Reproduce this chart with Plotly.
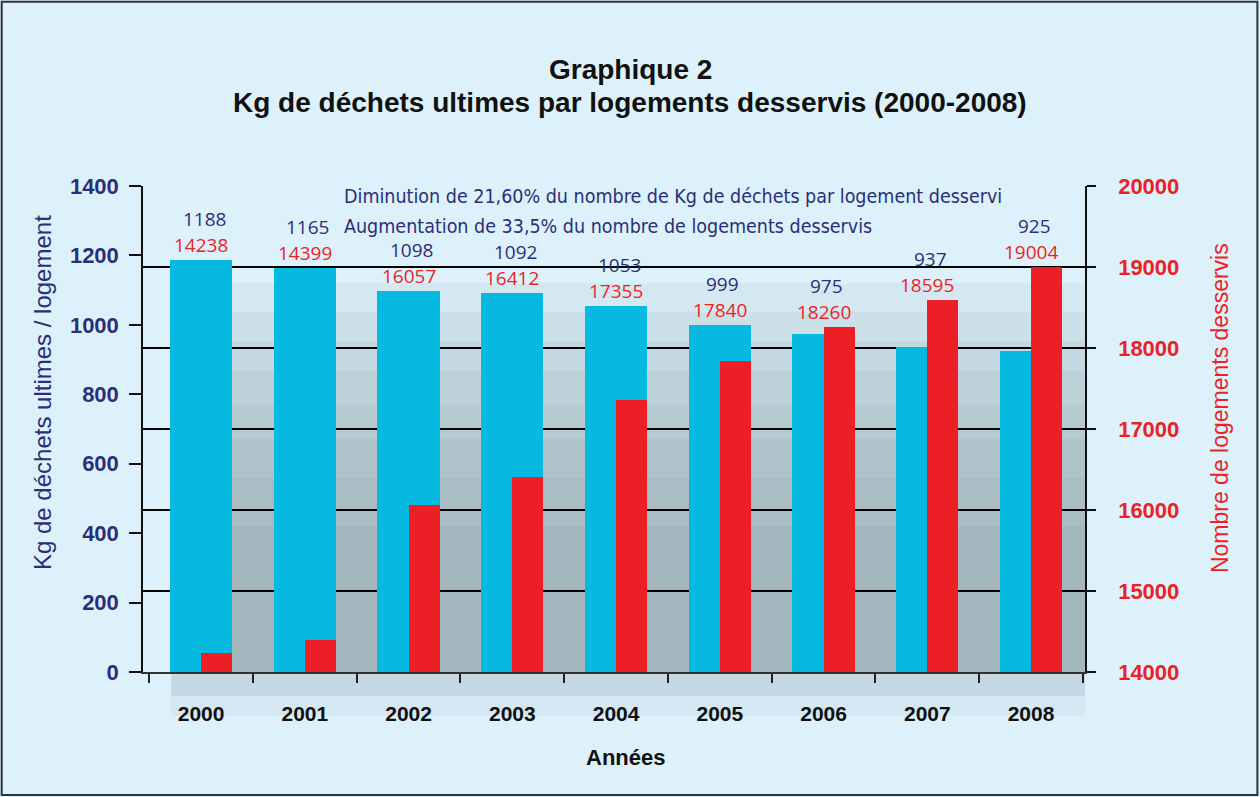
import plotly.graph_objects as go

years = ["2000", "2001", "2002", "2003", "2004", "2005", "2006", "2007", "2008"]
kg_per_logement = [1188, 1165, 1098, 1092, 1053, 999, 975, 937, 925]
logements = [14238, 14399, 16057, 16412, 17355, 17840, 18260, 18595, 19004]

left_ticks = [0, 200, 400, 600, 800, 1000, 1200, 1400]
right_ticks = [14000, 15000, 16000, 17000, 18000, 19000, 20000]

NAVY = "#2b2f78"
RED = "#ec1f26"
CYAN = "#06b9e0"
BG = "#ddf1fb"
FONT = "Liberation Sans, Arial, sans-serif"
NARROW = "DejaVu Sans Condensed, sans-serif"
NUMFONT = "Open Sans, Noto Sans, sans-serif"

idx = list(range(len(years)))

fig = go.Figure()
fig.add_trace(go.Bar(
    x=idx, y=kg_per_logement, width=0.6, offset=-0.3,
    marker=dict(color=CYAN, line=dict(width=0)),
    name="Kg", yaxis="y", hoverinfo="x+y", showlegend=False))
fig.add_trace(go.Bar(
    x=idx, y=logements, width=0.3, offset=0.0,
    marker=dict(color=RED, line=dict(width=0)),
    name="Logements", yaxis="y2", hoverinfo="x+y", showlegend=False))

# soft grey shadow behind bars (style only)
shapes = []
for top in [0.80, 0.74, 0.68, 0.62, 0.55, 0.48, 0.40, 0.30]:
    shapes.append(dict(type="rect", xref="paper", yref="paper",
                       x0=0.03, x1=1.0, y0=0.0, y1=top,
                       fillcolor="#4a5560", opacity=0.055, line=dict(width=0),
                       layer="below"))
for bottom, op in [(-0.05, 0.10), (-0.09, 0.06)]:
    shapes.append(dict(type="rect", xref="paper", yref="paper",
                       x0=0.03, x1=1.0, y0=bottom, y1=0.0,
                       fillcolor="#4a5560", opacity=op, line=dict(width=0),
                       layer="below"))
# outer frame
shapes.append(dict(type="rect", xref="paper", yref="paper",
                   x0=-0.150, x1=1.183, y0=-0.253, y1=1.379,
                   line=dict(color="#333333", width=2), fillcolor="rgba(0,0,0,0)"))

def ann(text, x, y, size, color, family=FONT, xanchor="center", angle=0):
    return dict(text=text, x=x, y=y, xref="paper", yref="paper",
                xanchor=xanchor, yanchor="middle", textangle=angle,
                showarrow=False, font=dict(family=family, size=size, color=color))

annotations = [
    ann("<b>Graphique 2</b>", 0.517, 1.2387, 28, "#111111"),
    ann("<b>Kg de déchets ultimes par logements desservis (2000-2008)</b>", 0.517, 1.1708, 28, "#111111"),
    ann("Diminution de 21,60% du nombre de Kg de déchets par logement desservi",
        0.211, 0.978, 19.5, NAVY, family=NARROW, xanchor="left"),
    ann("Augmentation de 33,5% du nombre de logements desservis",
        0.211, 0.917, 19.5, NAVY, family=NARROW, xanchor="left"),
    ann("Kg de déchets ultimes / logement", -0.1072, 0.574, 24, NAVY, angle=-90),
    ann("Nombre de logements desservis", 1.1433, 0.543, 23, RED, angle=-90),
    ann("<b>Années</b>", 0.5117, -0.175, 22, "#111111"),
]

# value labels above each pair of bars
for i, (k, r) in enumerate(zip(kg_per_logement, logements)):
    red_in_left = (r - right_ticks[0]) * (left_ticks[-1] / (right_ticks[-1] - right_ticks[0]))
    top = max(k, red_in_left)
    annotations.append(dict(text=f"{r}", x=i, y=top, xref="x", yref="y",
                            xanchor="center", yanchor="bottom", yshift=1,
                            showarrow=False, borderpad=0,
                            font=dict(family=NUMFONT, size=19, color=RED)))
    annotations.append(dict(text=f"{k}", x=i + 0.03, y=top, xref="x", yref="y",
                            xanchor="center", yanchor="bottom", yshift=27,
                            showarrow=False, borderpad=0,
                            font=dict(family=NUMFONT, size=19, color=NAVY)))

fig.update_layout(
    width=1260, height=797,
    margin=dict(l=143, r=175, t=186, b=125),
    paper_bgcolor=BG, plot_bgcolor=BG,
    barmode="overlay", bargap=0,
    shapes=shapes, annotations=annotations,
    xaxis=dict(range=[-0.56, 8.52], tickmode="array", tickvals=idx, ticktext=years,
               ticks="", showgrid=False, zeroline=False,
               showline=True, linecolor="#333333", linewidth=1.5,
               tickfont=dict(family=FONT, size=21, color="#111111", weight="bold"),
               ticklabelstandoff=22,
               minor=dict(tick0=-0.5, dtick=1, ticks="outside", ticklen=9,
                          tickcolor="#222222", tickwidth=1.5, showgrid=False)),
    yaxis=dict(range=[0, 1400], tickmode="array", tickvals=left_ticks,
               ticktext=[str(v) for v in left_ticks],
               ticks="outside", ticklen=12, tickcolor="#111111", tickwidth=1.5,
               showgrid=False, zeroline=False,
               showline=True, linecolor="#111111", linewidth=1.5, mirror=False,
               tickfont=dict(family=FONT, size=22, color=NAVY, weight="bold"),
               ticklabelstandoff=6),
    yaxis2=dict(range=[14000, 20000], tickmode="array", tickvals=right_ticks,
                ticktext=[str(v) for v in right_ticks],
                overlaying="y", side="right",
                ticks="outside", ticklen=9, tickcolor="#111111", tickwidth=1.5,
                showgrid=True, gridcolor="#000000", gridwidth=2,
                zeroline=False, showline=True, linecolor="#111111", linewidth=1.5,
                tickfont=dict(family=FONT, size=22, color=RED, weight="bold"),
                ticklabelstandoff=18),
)

fig.write_html("out.html", config={"displayModeBar": False},
               post_script="document.body.style.margin='0';")
